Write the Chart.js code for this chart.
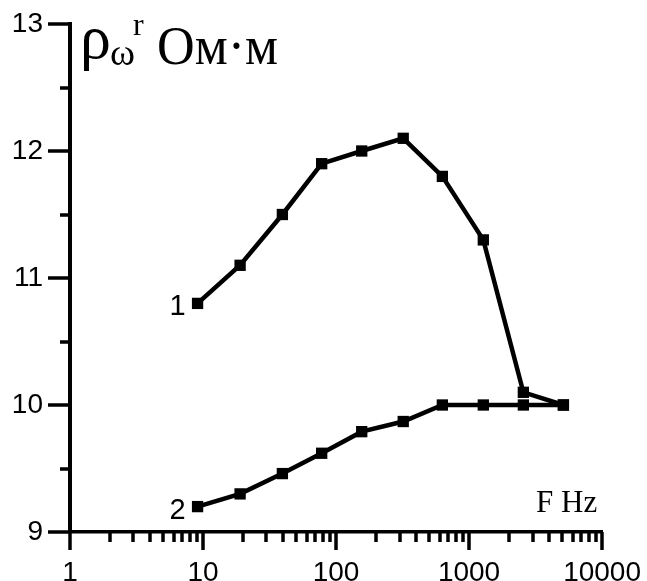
<!DOCTYPE html>
<html>
<head>
<meta charset="utf-8">
<script src="https://cdn.jsdelivr.net/npm/chart.js@4/dist/chart.umd.min.js"></script>
<style>
html,body{margin:0;padding:0;background:#fff;}
#wrap{width:647px;height:581px;position:relative;}
</style>
</head>
<body>
<div id="wrap"><canvas id="c" width="647" height="581"></canvas></div>
<script>
// ---- data ----
const freqHz = [9.1, 19, 39.5, 78, 156, 320, 630, 1280, 2560, 5120];
const curve1 = [10.8, 11.1, 11.5, 11.9, 12.0, 12.1, 11.8, 11.3, 10.1, 10.0];
const curve2 = [9.2, 9.3, 9.46, 9.62, 9.79, 9.87, 10.0, 10.0, 10.0, 10.0];
const xTickLabels = [1, 10, 100, 1000, 10000];
const yTickLabels = [9, 10, 11, 12, 13];
const curveNames = ['1', '2'];

const toPts = (vals) => freqHz.map((f, i) => ({x: f, y: vals[i]}));

const xMinor = [];
for (let k = 0; k < 4; k++) for (let m = 2; m <= 9; m++) xMinor.push(m * Math.pow(10, k));
const yMinor = [9.5, 10.5, 11.5, 12.5];

const decor = {
  id: 'decor',
  afterDraw(chart) {
    const ctx = chart.ctx;
    const xs = chart.scales.x, ys = chart.scales.y;
    const area = chart.chartArea;
    ctx.save();
    ctx.strokeStyle = '#000';
    ctx.lineCap = 'butt';
    // x ticks
    ctx.lineWidth = 3.5;
    xTickLabels.forEach(v => {
      const px = Math.round(xs.getPixelForValue(v));
      ctx.beginPath(); ctx.moveTo(px, area.bottom); ctx.lineTo(px, area.bottom + 18); ctx.stroke();
    });
    xMinor.forEach(v => {
      const px = Math.round(xs.getPixelForValue(v));
      ctx.beginPath(); ctx.moveTo(px, area.bottom); ctx.lineTo(px, area.bottom + 10); ctx.stroke();
    });
    // y ticks
    yTickLabels.forEach(v => {
      const py = Math.round(ys.getPixelForValue(v));
      ctx.beginPath(); ctx.moveTo(area.left, py); ctx.lineTo(area.left - 22, py); ctx.stroke();
    });
    yMinor.forEach(v => {
      const py = Math.round(ys.getPixelForValue(v));
      ctx.beginPath(); ctx.moveTo(area.left, py); ctx.lineTo(area.left - 10, py); ctx.stroke();
    });

    // curve labels
    ctx.fillStyle = '#000';
    ctx.font = '29px "Liberation Sans", Arial, sans-serif';
    ctx.textAlign = 'right';
    ctx.textBaseline = 'alphabetic';
    [curve1, curve2].forEach((c, i) => {
      const px = xs.getPixelForValue(freqHz[0]);
      const py = ys.getPixelForValue(c[0]);
      ctx.fillText(curveNames[i], px - 12, py + 12);
    });

    // axis title F Hz
    ctx.textAlign = 'left';
    ctx.font = '31px "Liberation Serif", "Times New Roman", serif';
    ctx.fillText('F Hz', area.right - 66, area.bottom - 20);

    // y title rho_omega^r Om·m
    const L = area.left;
    const T = area.top;
    ctx.font = '62px "Liberation Serif", serif';
    ctx.fillText('ρ', L + 10, T + 34);
    ctx.font = '38px "Liberation Serif", serif';
    ctx.fillText('ω', L + 40, T + 41);
    ctx.font = '32px "Liberation Serif", serif';
    ctx.fillText('r', L + 63, T + 11);
    ctx.font = '54px "Liberation Serif", serif';
    const txt = 'Ом·м';
    const w = ctx.measureText(txt).width;
    ctx.save();
    ctx.translate(L + 87, T + 40);
    ctx.scale(121 / w, 1);
    ctx.fillText(txt, 0, 0);
    ctx.restore();
    ctx.restore();
  }
};

const commonDs = {
  borderColor: '#000',
  backgroundColor: '#000',
  borderWidth: 4.5,
  pointStyle: 'rect',
  pointRadius: 8,
  pointBorderWidth: 0,
  pointBackgroundColor: '#000',
  tension: 0,
  fill: false
};

new Chart(document.getElementById('c'), {
  type: 'line',
  data: {
    datasets: [
      Object.assign({label: curveNames[0], data: toPts(curve1)}, commonDs),
      Object.assign({label: curveNames[1], data: toPts(curve2)}, commonDs)
    ]
  },
  options: {
    responsive: false,
    animation: false,
    layout: {padding: {top: 24, right: 44, left: 0, bottom: 0}},
    plugins: {legend: {display: false}, tooltip: {enabled: false}, title: {display: false}},
    scales: {
      x: {
        type: 'logarithmic',
        min: 1, max: 10000,
        afterFit(s) { s.height = 49; },
        afterBuildTicks(s) { s.ticks = xTickLabels.map(v => ({value: v, major: true})); },
        grid: {display: true, drawOnChartArea: false, drawTicks: true, tickLength: 18, tickColor: 'rgba(0,0,0,0)'},
        border: {display: true, color: '#000', width: 3.5},
        ticks: {
          autoSkip: false, maxRotation: 0, padding: 6, color: '#000',
          font: {family: '"Liberation Sans", Arial, sans-serif', size: 28},
          callback: (v) => String(v)
        }
      },
      y: {
        type: 'linear',
        min: 9, max: 13,
        afterFit(s) { s.width = 70; },
        afterBuildTicks(s) { s.ticks = yTickLabels.map(v => ({value: v})); },
        grid: {display: true, drawOnChartArea: false, drawTicks: true, tickLength: 22, tickColor: 'rgba(0,0,0,0)'},
        border: {display: true, color: '#000', width: 4},
        ticks: {
          padding: 5, color: '#000',
          font: {family: '"Liberation Sans", Arial, sans-serif', size: 28},
          callback: (v) => String(v)
        }
      }
    }
  },
  plugins: [decor]
});
</script>
</body>
</html>
